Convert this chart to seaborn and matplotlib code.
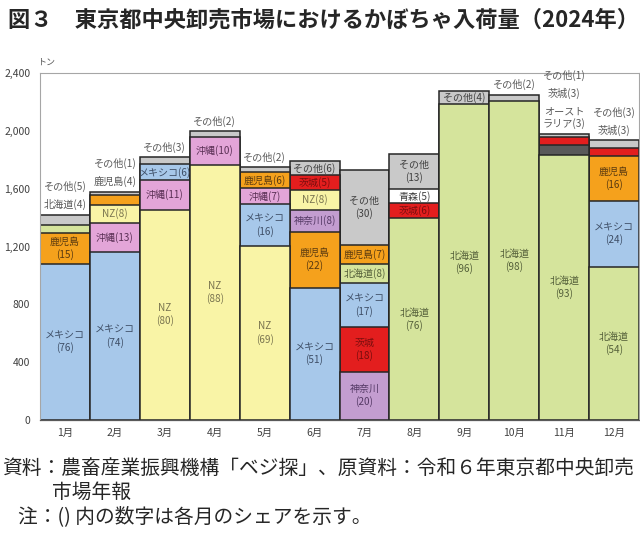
import pandas as pd
import matplotlib
matplotlib.use("Agg")
import matplotlib.pyplot as plt
import seaborn as sns
from matplotlib.ticker import FuncFormatter

# Monthly arrivals (tons) by origin
months = ["1月", "2月", "3月", "4月", "5月", "6月", "7月", "8月", "9月", "10月", "11月", "12月"]

mexico = [1080, 1162, 108, 0, 289, 915, 300, 0, 0, 0, 0, 457]
kagoshima = [216, 69, 0, 0, 107, 387, 131, 0, 0, 0, 0, 309]
hokkaido = [55, 0, 0, 0, 0, 0, 134, 1395, 2185, 2208, 1831, 1060]
okinawa = [0, 202, 205, 195, 114, 0, 0, 0, 0, 0, 0, 0]
nz = [0, 123, 1455, 1763, 1203, 139, 0, 0, 0, 0, 0, 0]
ibaraki = [0, 0, 0, 0, 0, 103, 311, 108, 0, 0, 59, 53]
kanagawa = [0, 0, 0, 0, 0, 150, 334, 0, 0, 0, 0, 0]
aomori = [0, 0, 0, 0, 0, 0, 0, 92, 0, 0, 0, 0]
australia = [0, 0, 0, 0, 0, 0, 0, 0, 0, 0, 69, 0]
other = [70, 23, 49, 40, 34, 97, 519, 242, 92, 42, 17, 57]

# Shares (%) shown in the labels
mexico_share = [76, 74, 6, 0, 16, 51, 17, 0, 0, 0, 0, 24]
kagoshima_share = [15, 4, 0, 0, 6, 22, 7, 0, 0, 0, 0, 16]
hokkaido_share = [4, 0, 0, 0, 0, 0, 8, 76, 96, 98, 93, 54]
okinawa_share = [0, 13, 11, 10, 7, 0, 0, 0, 0, 0, 0, 0]
nz_share = [0, 8, 80, 88, 69, 8, 0, 0, 0, 0, 0, 0]
ibaraki_share = [0, 0, 0, 0, 0, 5, 18, 6, 0, 0, 3, 3]
kanagawa_share = [0, 0, 0, 0, 0, 8, 20, 0, 0, 0, 0, 0]
aomori_share = [0, 0, 0, 0, 0, 0, 0, 5, 0, 0, 0, 0]
australia_share = [0, 0, 0, 0, 0, 0, 0, 0, 0, 0, 3, 0]
other_share = [5, 1, 3, 2, 2, 6, 30, 13, 4, 2, 1, 3]

origins = [
    ("メキシコ", mexico, mexico_share),
    ("鹿児島", kagoshima, kagoshima_share),
    ("北海道", hokkaido, hokkaido_share),
    ("沖縄", okinawa, okinawa_share),
    ("NZ", nz, nz_share),
    ("茨城", ibaraki, ibaraki_share),
    ("神奈川", kanagawa, kanagawa_share),
    ("青森", aomori, aomori_share),
    ("オースト\nラリア", australia, australia_share),
    ("その他", other, other_share),
]

colors = {
    "メキシコ": "#A7C8EA",
    "鹿児島": "#F5A11C",
    "北海道": "#D5E49C",
    "沖縄": "#E3A5D8",
    "NZ": "#F9F4A6",
    "茨城": "#E31E1E",
    "神奈川": "#C39DD0",
    "青森": "#FFFFFF",
    "オースト\nラリア": "#595959",
    "その他": "#C9C9C9",
}
text_colors = {
    "メキシコ": "#3E4E66",
    "鹿児島": "#5A3A10",
    "北海道": "#55603A",
    "沖縄": "#5A3055",
    "NZ": "#7A7550",
    "茨城": "#7A0E0E",
    "神奈川": "#553A66",
    "青森": "#404040",
    "その他": "#404040",
}

rows = []
for name, vals, shares in origins:
    for m, v, s in zip(months, vals, shares):
        if v > 0:
            rows.append({"month": m, "origin": name, "tons": v, "share": s})
df = pd.DataFrame(rows)

# stacking order per month: largest at the bottom, その他 always on top
segs = {}
for m in months:
    d = df[df["month"] == m].copy()
    d["is_other"] = d["origin"] == "その他"
    d = d.sort_values(["is_other", "tons"], ascending=[True, False])
    segs[m] = list(d.itertuples(index=False))

sns.set_style("white")
plt.rcParams["font.family"] = ["Noto Sans CJK JP", "DejaVu Sans"]

fig = plt.figure(figsize=(6.4, 5.4), dpi=100)
ax = fig.add_axes([0.0625, 0.2222, 0.936, 0.6426])

# overdraw cumulative bars from top layer to bottom layer
n_layers = max(len(s) for s in segs.values())
for r in reversed(range(n_layers)):
    layer = []
    pal = {m: "#FFFFFF" for m in months}
    for m in months:
        s = segs[m]
        if r < len(s):
            layer.append({"month": m, "top": sum(x.tons for x in s[: r + 1])})
            pal[m] = colors[s[r].origin]
    sns.barplot(
        data=pd.DataFrame(layer), x="month", y="top", hue="month",
        order=months, hue_order=months, palette=pal, width=1.0,
        saturation=1, edgecolor="#262626", linewidth=1.1,
        errorbar=None, legend=False, ax=ax,
    )

# labels: inside if the segment is tall enough, otherwise stacked above the bar
px2pt = 72 / 100
for i, m in enumerate(months):
    total = sum(x.tons for x in segs[m])
    bottom = 0
    out_off = 10
    for seg in segs[m]:
        name, v, s = seg.origin, seg.tons, seg.share
        if v >= 85:
            txt = f"{name}\n({s})" if v >= 210 else f"{name}({s})"
            ax.text(i, bottom + v / 2, txt, ha="center", va="center",
                    fontsize=7.2, color=text_colors.get(name, "#404040"),
                    linespacing=1.25)
        else:
            nl = name.count("\n") + 1
            h = 12.7 * (nl - 1)
            ax.annotate(f"{name}({s})", xy=(i, total), xycoords="data",
                        xytext=(0, (out_off + h / 2) * px2pt),
                        textcoords="offset points", ha="center", va="center",
                        fontsize=7.3, color="#595959", linespacing=1.2,
                        annotation_clip=False)
            out_off += h + 18
        bottom += v

ax.set_xlim(-0.5, 11.5)
ax.set_ylim(0, 2400)
ax.set_yticks(range(0, 2401, 400))
ax.yaxis.set_major_formatter(FuncFormatter(lambda v, p: f"{int(v):,}"))
ax.set_xlabel("")
ax.set_ylabel("")
ax.set_xticks(range(12))
ax.set_xticklabels(months)
ax.set_xticks([i - 0.5 for i in range(13)], minor=True)
ax.tick_params(axis="x", which="major", length=0, labelsize=7.5, colors="#404040", pad=6)
ax.tick_params(axis="x", which="minor", length=4, color="#595959", direction="out")
ax.tick_params(axis="y", length=3, color="#7F7F7F", labelsize=7.5, colors="#404040", pad=4)
for side in ["top", "left", "right"]:
    ax.spines[side].set_color("#A6A6A6")
    ax.spines[side].set_linewidth(0.8)
ax.spines["bottom"].set_color("#595959")
ax.spines["bottom"].set_linewidth(0.9)

fig.text(0.058, 0.885, "トン", fontsize=6.5, color="#595959", va="center")

fig.text(0.012, 0.962, "図３　東京都中央卸売市場におけるかぼちゃ入荷量（2024年）",
         fontsize=16, fontweight="bold", va="center", ha="left")
fig.text(0.003, 0.1333, "資料：農畜産業振興機構「ベジ探」、原資料：令和６年東京都中央卸売",
         fontsize=14.2, va="center", ha="left")
fig.text(0.081, 0.0889, "市場年報", fontsize=14.2, va="center", ha="left")
fig.text(0.028, 0.0426, "注：() 内の数字は各月のシェアを示す。", fontsize=14.2, va="center", ha="left")

fig.savefig("out.png", dpi=100)
